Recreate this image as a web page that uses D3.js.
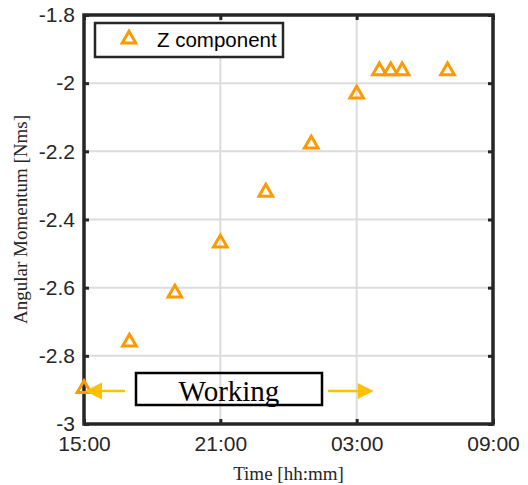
<!DOCTYPE html>
<html>
<head>
<meta charset="utf-8">
<script src="https://cdn.jsdelivr.net/npm/d3@7"></script>
<style>
  body { margin: 0; background: #fff; }
  svg { display: block; }
</style>
</head>
<body>
<script>
// readings, Z component of angular momentum
let times = ["15:00", "17:00", "19:00", "21:00", "23:00", "01:00", "03:00", "04:00", "04:30", "05:00", "07:00"];
let zValues = [-2.893, -2.757, -2.613, -2.466, -2.317, -2.176, -2.029, -1.961, -1.961, -1.961, -1.961];
let xTicks = ["15:00", "21:00", "03:00", "09:00"];
let yTicks = [-1.8, -2, -2.2, -2.4, -2.6, -2.8, -3];
let workingSpan = ["15:00", "03:45"]; // arrows of the "Working" note

let width = 528, height = 485;
let margin = {left: 84, right: 35, top: 15, bottom: 61};

// times roll over midnight, so count hours from 15:00
function toDate(s) {
  let [h, m] = s.split(":").map(Number);
  let d = new Date(2000, 0, 1, h, m);
  if (h < 15) d.setDate(2);
  return d;
}

let x = d3.scaleTime()
  .domain([toDate("15:00"), toDate("09:00")])
  .range([margin.left, width - margin.right]);

let y = d3.scaleLinear()
  .domain([-3, -1.8])
  .range([height - margin.bottom, margin.top]);

let svg = d3.select("body").append("svg")
  .attr("width", width)
  .attr("height", height);

let axisColor = "#262626";
let gridColor = "#dcdcdc";
let orange = "#ff9900";
let gold = "#ffc000";

let x0 = margin.left, x1 = width - margin.right;
let y0 = height - margin.bottom, y1 = margin.top;

// grid
svg.append("g").selectAll("line.gx")
  .data(xTicks.slice(1, -1))
  .join("line")
  .attr("x1", d => x(toDate(d))).attr("x2", d => x(toDate(d)))
  .attr("y1", y0).attr("y2", y1)
  .attr("stroke", gridColor).attr("stroke-width", 2);

svg.append("g").selectAll("line.gy")
  .data(yTicks.slice(1, -1))
  .join("line")
  .attr("x1", x0).attr("x2", x1)
  .attr("y1", d => y(d)).attr("y2", d => y(d))
  .attr("stroke", gridColor).attr("stroke-width", 2);

// axes
let xAxis = d3.axisBottom(x)
  .tickValues(xTicks.map(toDate))
  .tickFormat(d3.timeFormat("%H:%M"))
  .tickSizeInner(-5).tickSizeOuter(0).tickPadding(12);

let yAxis = d3.axisLeft(y)
  .tickValues(yTicks)
  .tickFormat(d => String(d))
  .tickSizeInner(-5).tickSizeOuter(0).tickPadding(9);

svg.append("g").attr("transform", `translate(0,${y0})`).call(xAxis);
svg.append("g").attr("transform", `translate(${x0},0)`).call(yAxis);

// mirror ticks on top and right
svg.append("g").attr("transform", `translate(0,${y1})`)
  .call(d3.axisTop(x).tickValues(xTicks.map(toDate)).tickFormat("").tickSizeInner(-5).tickSizeOuter(0));
svg.append("g").attr("transform", `translate(${x1},0)`)
  .call(d3.axisRight(y).tickValues(yTicks).tickFormat("").tickSizeInner(-5).tickSizeOuter(0));

svg.selectAll(".domain").remove();
svg.selectAll(".tick line").attr("stroke", axisColor).attr("stroke-width", 3);
svg.selectAll(".tick text")
  .attr("fill", axisColor)
  .style("font-family", "Liberation Sans, Arial, sans-serif")
  .style("font-size", "21px");

svg.append("rect")
  .attr("x", x0).attr("y", y1)
  .attr("width", x1 - x0).attr("height", y0 - y1)
  .attr("fill", "none").attr("stroke", axisColor).attr("stroke-width", 3.5);

// axis titles
svg.append("text")
  .attr("x", (x0 + x1) / 2).attr("y", 480)
  .attr("text-anchor", "middle")
  .style("font-family", "Liberation Serif, Times New Roman, serif")
  .style("font-size", "19px")
  .attr("fill", axisColor)
  .text("Time [hh:mm]");

svg.append("text")
  .attr("transform", `translate(27,${(y0 + y1) / 2}) rotate(-90)`)
  .attr("text-anchor", "middle")
  .style("font-family", "Liberation Serif, Times New Roman, serif")
  .style("font-size", "19px")
  .attr("fill", axisColor)
  .text("Angular Momentum [Nms]");

// data markers
let tri = d3.symbol(d3.symbolTriangle, 80);
let data = times.map((t, i) => ({t: toDate(t), v: zValues[i]}));

svg.append("g").selectAll("path")
  .data(data)
  .join("path")
  .attr("d", tri)
  .attr("transform", d => `translate(${x(d.t)},${y(d.v) + 1})`)
  .attr("fill", "none")
  .attr("stroke", orange)
  .attr("stroke-width", 3);

// legend
let lg = svg.append("g");
lg.append("rect")
  .attr("x", 95).attr("y", 23).attr("width", 188).attr("height", 34)
  .attr("fill", "#fff").attr("stroke", axisColor).attr("stroke-width", 2.5);
lg.append("path")
  .attr("d", tri)
  .attr("transform", "translate(129,39)")
  .attr("fill", "none").attr("stroke", orange).attr("stroke-width", 3);
lg.append("text")
  .attr("x", 157).attr("y", 47)
  .style("font-family", "Liberation Sans, Arial, sans-serif")
  .style("font-size", "20.5px")
  .attr("fill", "#000")
  .text("Z component");

// "Working" note with arrows
let ay = 391;
let ax0 = x(toDate(workingSpan[0])), ax1 = x(toDate(workingSpan[1]));

let note = svg.append("g");
note.append("line")
  .attr("x1", 125).attr("x2", ax0 + 16).attr("y1", ay).attr("y2", ay)
  .attr("stroke", gold).attr("stroke-width", 2.5);
note.append("path")
  .attr("d", `M${ax0 + 1},${ay} L${ax0 + 18},${ay - 8.5} L${ax0 + 18},${ay + 8.5} Z`)
  .attr("fill", gold);
note.append("line")
  .attr("x1", 328).attr("x2", ax1 - 14).attr("y1", ay).attr("y2", ay)
  .attr("stroke", gold).attr("stroke-width", 2.5);
note.append("path")
  .attr("d", `M${ax1},${ay} L${ax1 - 16},${ay - 8} L${ax1 - 16},${ay + 8} Z`)
  .attr("fill", gold);

note.append("text")
  .attr("x", 229).attr("y", 401)
  .attr("text-anchor", "middle")
  .style("font-family", "Liberation Serif, Times New Roman, serif")
  .style("font-size", "29px")
  .attr("fill", "#000")
  .text("Working");
note.append("rect")
  .attr("x", 136).attr("y", 373).attr("width", 186).attr("height", 32)
  .attr("fill", "none").attr("stroke", "#000").attr("stroke-width", 2.5);
</script>
</body>
</html>
